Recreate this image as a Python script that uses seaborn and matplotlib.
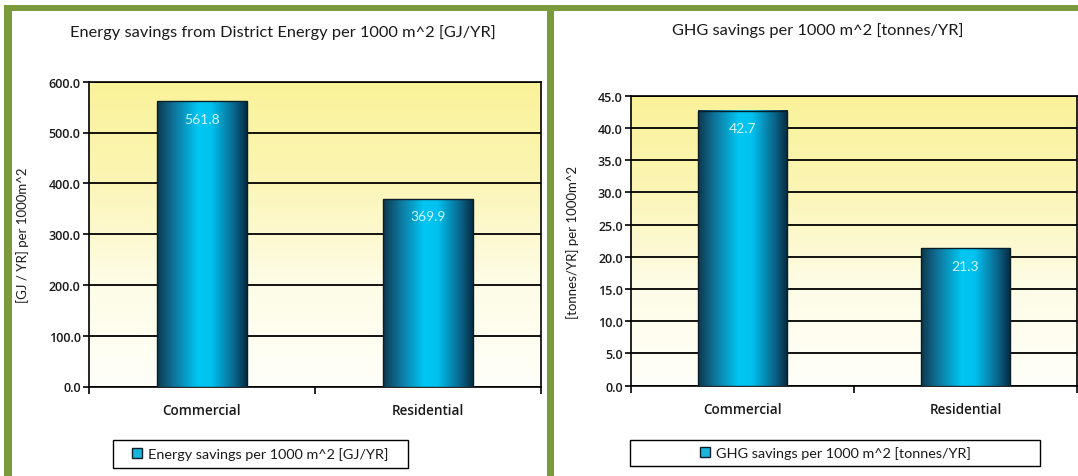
import numpy as np
import pandas as pd
import matplotlib
matplotlib.use("Agg")
import matplotlib.pyplot as plt
import seaborn as sns
from matplotlib.patches import Rectangle, Patch
from matplotlib.colors import LinearSegmentedColormap

# ---------------- data ----------------
categories = ["Commercial", "Residential"]
energy_values = [561.8, 369.9]
ghg_values = [42.7, 21.3]
energy_ticks = [0, 100, 200, 300, 400, 500, 600]
ghg_ticks = [0, 5, 10, 15, 20, 25, 30, 35, 40, 45]
titles = ["Energy savings from District Energy per 1000 m^2 [GJ/YR]",
          "GHG savings per 1000 m^2 [tonnes/YR]"]
ylabels = ["[GJ / YR] per 1000m^2", "[tonnes/YR] per 1000m^2"]
legend_labels = ["Energy savings per 1000 m^2 [GJ/YR]",
                 "GHG savings per 1000 m^2 [tonnes/YR]"]

sns.set_theme(style="white")
plt.rcParams["font.family"] = ["Lato", "DejaVu Sans"]
tick_family = ["Open Sans", "Lato", "DejaVu Sans"]

W, H = 1078, 477
fig = plt.figure(figsize=(W / 100, H / 100), dpi=100)
fig.patch.set_facecolor("white")


def fx(px):
    return px / W


def fy(py):
    return 1 - py / H


# axes rectangles in pixel coordinates (left, top, right, bottom)
ax_rects = [(89, 82.7, 541, 387.5), (631, 96.7, 1077, 386.7)]

bar_cmap = LinearSegmentedColormap.from_list(
    "cyl",
    [(0.0, (0.05, 0.22, 0.30)), (0.18, (0.06, 0.45, 0.60)),
     (0.45, (0.0, 0.78, 0.95)), (0.6, (0.0, 0.76, 0.94)),
     (0.85, (0.04, 0.40, 0.55)), (1.0, (0.02, 0.16, 0.24))])
bg_cmap = LinearSegmentedColormap.from_list(
    "bg", [(0.0, (1.0, 1.0, 0.98)), (0.35, (0.995, 0.99, 0.90)),
           (0.7, (0.985, 0.96, 0.70)), (1.0, (0.98, 0.95, 0.60))])

datasets = [(energy_values, energy_ticks), (ghg_values, ghg_ticks)]
legend_boxes = [(113, 441, 408, 469), (630, 441, 1040, 467)]
title_pos = [(283, 33), (818, 31)]
ylabel_pos = [(23, 235), (573, 242)]

for i, ((vals, ticks), (l, t, r, b)) in enumerate(zip(datasets, ax_rects)):
    ax = fig.add_axes([fx(l), fy(b), fx(r) - fx(l), fy(t) - fy(b)])
    df = pd.DataFrame({"category": categories, "value": vals})
    sns.barplot(data=df, x="category", y="value", ax=ax, width=0.4,
                facecolor="none", edgecolor="#0a1e2a", linewidth=1.0,
                zorder=4)
    # background gradient
    grad = np.linspace(0, 1, 256).reshape(-1, 1)
    ax.imshow(grad, cmap=bg_cmap, extent=[0, 1, 0, 1], origin="lower",
              transform=ax.transAxes, aspect="auto", zorder=-2,
              interpolation="bilinear")
    # bar gradients
    hgrad = np.linspace(0, 1, 256).reshape(1, -1)
    for p in ax.patches:
        x0, y0, w, h = p.get_x(), p.get_y(), p.get_width(), p.get_height()
        ax.imshow(hgrad, cmap=bar_cmap, extent=[x0, x0 + w, y0, y0 + h],
                  aspect="auto", zorder=3, interpolation="bicubic")
    ax.bar_label(ax.containers[0], labels=[f"{v:.1f}" for v in vals],
                 padding=-17, color="#d2f4ff", fontsize=10, zorder=6)

    ax.set_xlim(-0.5, 1.5)
    ax.set_ylim(ticks[0], ticks[-1])
    ax.set_yticks(ticks)
    ax.set_yticklabels([f"{v:.1f}" for v in ticks], fontsize=9,
                       fontweight="semibold", family=tick_family,
                       color="#1a1a1a")
    ax.set_xticks([0, 1])
    ax.set_xticklabels(categories, fontsize=9.8, fontweight="semibold",
                       family=tick_family, color="#1a1a1a")
    ax.set_xticks([-0.5, 0.5, 1.5], minor=True)
    ax.tick_params(axis="x", which="major", length=0, pad=12)
    ax.tick_params(axis="x", which="minor", length=5, width=1.2,
                   color="black", direction="out", bottom=True)
    ax.tick_params(axis="y", length=4, width=1.2, color="black",
                   direction="out", left=True, pad=2)
    ax.set_xlabel("")
    ax.set_ylabel("")
    ax.yaxis.grid(True, color="black", linewidth=1.3)
    ax.xaxis.grid(False)
    ax.set_axisbelow(True)
    for s in ax.spines.values():
        s.set_visible(True)
        s.set_color("black")
        s.set_linewidth(1.2)

    # title and y label
    tx, ty = title_pos[i]
    fig.text(fx(tx), fy(ty), titles[i], ha="center", va="center",
             fontsize=11.8, color="#1a1a1a")
    lx, ly = ylabel_pos[i]
    fig.text(fx(lx), fy(ly), ylabels[i], ha="center", va="center",
             rotation=90, fontsize=9.5, color="#1a1a1a")

    # legend box
    bl, bt, br, bb = legend_boxes[i]
    fig.add_artist(Rectangle((fx(bl), fy(bb)), fx(br) - fx(bl),
                             fy(bt) - fy(bb), transform=fig.transFigure,
                             facecolor="white", edgecolor="black",
                             linewidth=1.0, zorder=5))
    handle = Patch(facecolor="#19b4dc", edgecolor="#0a1e2a", linewidth=1.0)
    leg = fig.legend([handle], [legend_labels[i]], loc="center",
                     bbox_to_anchor=(fx((bl + br) / 2), fy((bt + bb) / 2)),
                     frameon=False, fontsize=10.4, handlelength=0.7,
                     handleheight=0.7, handletextpad=0.4, borderpad=0.1)
    leg.set_zorder(6)
    for txt in leg.get_texts():
        txt.set_color("#1a1a1a")

# green frame
green = "#7b9a3c"
for (x0, y0, x1, y1) in [(4, 5.5, 1078, 11.7), (4, 5.5, 11.5, 477),
                         (547, 5.5, 554, 477)]:
    fig.add_artist(Rectangle((fx(x0), fy(y1)), fx(x1) - fx(x0),
                             fy(y0) - fy(y1), transform=fig.transFigure,
                             facecolor=green, edgecolor="none", zorder=10))

fig.savefig("out.png", dpi=100)
